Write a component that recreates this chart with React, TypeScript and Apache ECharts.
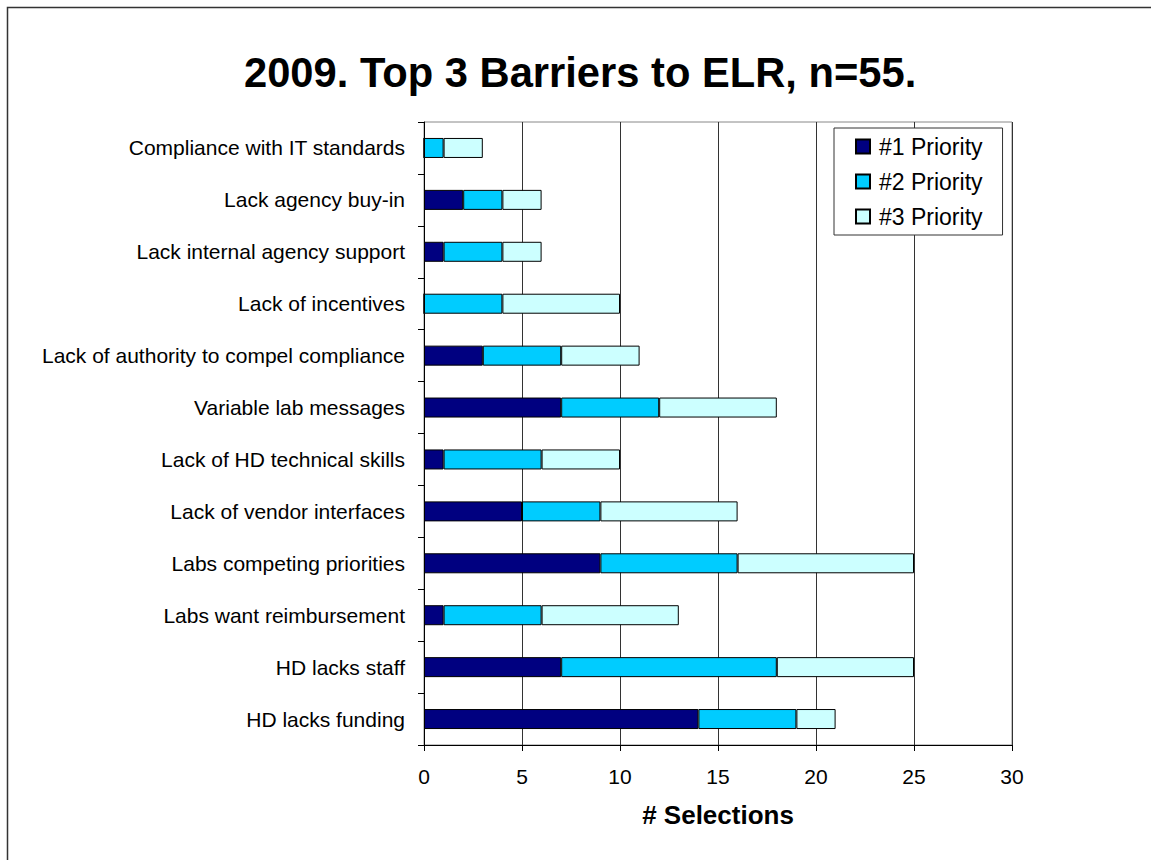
import React, { useEffect, useRef } from "react";
import * as echarts from "echarts";

const categories = [
  "Compliance with IT standards",
  "Lack agency buy-in",
  "Lack internal agency support",
  "Lack of incentives",
  "Lack of authority to compel compliance",
  "Variable lab messages",
  "Lack of HD technical skills",
  "Lack of vendor interfaces",
  "Labs competing priorities",
  "Labs want reimbursement",
  "HD lacks staff",
  "HD lacks funding",
];
const priority1 = [0, 2, 1, 0, 3, 7, 1, 5, 9, 1, 7, 14];
const priority2 = [1, 2, 3, 4, 4, 5, 5, 4, 7, 5, 11, 5];
const priority3 = [2, 2, 2, 6, 4, 6, 4, 7, 9, 7, 7, 2];
const seriesNames = ["#1 Priority", "#2 Priority", "#3 Priority"];
const seriesColors = ["#000080", "#00CCFF", "#CCFFFF"];

const FONT = "'Liberation Sans', Arial, sans-serif";

export default function App() {
  const ref = useRef<HTMLDivElement>(null);
  useEffect(() => {
    if (!ref.current) return;
    const chart = echarts.init(ref.current, undefined, { renderer: "svg" });
    const values = [priority1, priority2, priority3];
    chart.setOption({
      animation: false,
      backgroundColor: "#ffffff",
      textStyle: { fontFamily: FONT },
      title: {
        text: "2009. Top 3 Barriers to ELR, n=55.",
        left: 244,
        top: 51,
        padding: 0,
        textStyle: { fontFamily: FONT, fontSize: 41.7, fontWeight: "bold", color: "#000" },
      },
      graphic: [
        {
          type: "rect",
          shape: { x: 7.5, y: 7.5, width: 1160, height: 870 },
          style: { fill: "none", stroke: "#333", lineWidth: 1.5 },
          silent: true,
        },
      ],
      legend: {
        orient: "vertical",
        left: 834,
        top: 128,
        padding: [7, 20, 7, 21],
        itemWidth: 14,
        itemHeight: 14,
        itemGap: 12,
        borderColor: "#333",
        borderWidth: 1,
        backgroundColor: "#fff",
        data: seriesNames.map((n) => ({ name: n, icon: "rect" })),
        textStyle: {
          fontFamily: FONT,
          fontSize: 23,
          color: "#000",
          lineHeight: 23,
          padding: [0, 0, 0, 4],
        },
      },
      grid: {
        left: 424,
        top: 122,
        right: 139,
        bottom: 115,
        containLabel: false,
        show: true,
        borderColor: "#888",
        borderWidth: 1,
        backgroundColor: "transparent",
      },
      xAxis: {
        type: "value",
        min: 0,
        max: 30,
        interval: 5,
        name: "# Selections",
        nameLocation: "middle",
        nameGap: 57,
        nameTextStyle: { fontFamily: FONT, fontSize: 26, fontWeight: "bold", color: "#000" },
        axisLine: { show: true, lineStyle: { color: "#000", width: 1 } },
        axisTick: { show: true, length: 6, lineStyle: { color: "#000" } },
        axisLabel: { fontFamily: FONT, fontSize: 21, color: "#000", margin: 21 },
        splitLine: { show: true, lineStyle: { color: "#333", width: 1 } },
      },
      yAxis: {
        type: "category",
        data: categories,
        inverse: true,
        axisLine: { show: true, lineStyle: { color: "#000", width: 1 } },
        axisTick: { show: true, length: 6, alignWithLabel: false, lineStyle: { color: "#000" } },
        axisLabel: { fontFamily: FONT, fontSize: 21, color: "#000", margin: 19 },
        splitLine: { show: false },
      },
      series: seriesNames.map((name, i) => ({
        name,
        type: "bar",
        stack: "total",
        barWidth: 20,
        data: values[i],
        itemStyle: { color: seriesColors[i], borderColor: "#000", borderWidth: 1 },
      })),
    });
    return () => chart.dispose();
  }, []);
  return (
    <div
      ref={ref}
      style={{ position: "fixed", left: 0, top: 0, width: 1151, height: 860, background: "#fff" }}
    />
  );
}
